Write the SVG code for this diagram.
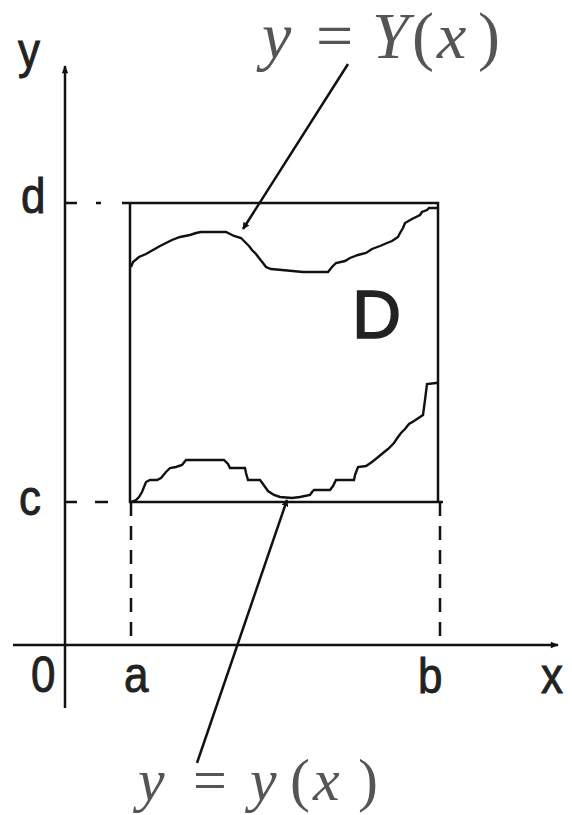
<svg xmlns="http://www.w3.org/2000/svg" width="572" height="815" viewBox="0 0 572 815">
<style>
.ln{stroke:#111;stroke-width:2.5;fill:none}
.cv{stroke:#111;stroke-width:2.4;fill:none;stroke-linejoin:miter}
.dash{stroke:#111;stroke-width:2.5;fill:none;stroke-dasharray:14 10}
.lbl{font-family:"Liberation Sans",Arial,sans-serif;font-size:44px;fill:#222;stroke:#222;stroke-width:0.8}
.big{font-size:68px;stroke-width:1.5}
.fm{font-family:"Liberation Serif","Times New Roman",serif;fill:#555}
.it{font-style:italic}
</style>
<defs>
<marker id="ah" viewBox="0 0 10 10" refX="9" refY="5" markerWidth="7" markerHeight="7" orient="auto" markerUnits="userSpaceOnUse">
<path d="M0,0 L10,5 L0,10 z" fill="#111"/>
</marker>
<marker id="axh" viewBox="0 0 10 10" refX="9" refY="5" markerWidth="9" markerHeight="8" orient="auto" markerUnits="userSpaceOnUse">
<path d="M0,1 L10,5 L0,9 z" fill="#111"/>
</marker>
</defs>
<rect width="572" height="815" fill="#fff"/>
<g id="axes">
<line class="ln" x1="65" y1="708" x2="65" y2="66" marker-end="url(#axh)"/>
<line class="ln" x1="13" y1="645" x2="558" y2="645" marker-end="url(#axh)"/>
</g>
<g id="guides">
<path class="dash" d="M65 203 H77 M96 203 H101"/>
<path class="dash" d="M65 502 H77 M95 502 H108"/>
<line class="dash" x1="131" y1="502" x2="131" y2="645"/>
<line class="dash" x1="440" y1="502" x2="440" y2="645"/>
</g>
<g id="rect">
<path class="ln" d="M122 203 H438 V502 M130 203 V502 H443"/>
</g>
<g id="curve-upper">
<path class="cv" d="M131 267 L133 262 L139 257 L146 254 L153 250 L160 246 L166 243 L172 240 L180 237 L190 235 L196 233 L201 232 L226 232 L234 236 L241 238 L245 242 L249 246 L252 250 L256 254 L259 258 L263 263 L266 267 L271 269 L282 270 L303 272 L328 272 L332 267 L336 263 L345 261 L350 258 L358 255 L366 253 L372 249 L380 246 L387 243 L392 241 L398 237 L400 233 L403 228 L405 223 L412 219 L420 215 L422 212 L427 210 L429 208 L438 208"/>
</g>
<g id="curve-lower">
<path class="cv" d="M131 502 L136 500 L139 497 L142 492 L146 482 L150 480 L157 480 L161 478 L166 472 L170 468 L176 467 L182 465 L186 460 L224 460 L228 464 L230 468 L245 468 L246 473 L248 480 L260 480 L263 484 L268 491 L274 495 L280 497 L292 498 L300 497 L310 495 L312 492 L314 490 L330 490 L333 486 L336 480 L354 480 L355 475 L358 467 L366 466 L372 462 L377 458 L383 453 L388 449 L394 443 L398 437 L401 433 L405 429 L409 424 L414 421 L423 415 L425 400 L427 384 L436 383 L438 383"/>
</g>
<g id="connectors">
<line class="ln" x1="348" y1="64" x2="243" y2="229" stroke-width="2" marker-end="url(#ah)"/>
<line class="ln" x1="197" y1="763" x2="287" y2="500" stroke-width="2" marker-end="url(#ah)"/>
</g>
<g id="labels">
<text class="lbl" x="18" y="68" transform="translate(0,-10) scale(1,1.15)">y</text>
<text class="lbl" x="21" y="213" transform="translate(0,-32) scale(1,1.15)">d</text>
<text class="lbl" x="19" y="515" transform="translate(0,-77) scale(1,1.15)">c</text>
<text class="lbl" x="31" y="692" transform="translate(0,-104) scale(1,1.15)">0</text>
<text class="lbl" x="124" y="692" transform="translate(0,-104) scale(1,1.15)">a</text>
<text class="lbl" x="418" y="693" transform="translate(0,-104) scale(1,1.15)">b</text>
<text class="lbl" x="541" y="693" transform="translate(0,-104) scale(1,1.15)">x</text>
<text id="D" class="lbl big" x="352" y="338">D</text>
</g>
<g id="formula-top">
<text class="fm" y="58" font-size="66"><tspan class="it" x="262">y</tspan><tspan x="316">=</tspan><tspan class="it" x="372">Y</tspan><tspan x="412">(</tspan><tspan class="it" x="437">x</tspan><tspan x="478">)</tspan></text>
</g>
<g id="formula-bottom">
<text class="fm" y="800" font-size="60"><tspan class="it" x="138">y</tspan><tspan x="193">=</tspan><tspan class="it" x="250">y</tspan><tspan x="290">(</tspan><tspan class="it" x="313">x</tspan><tspan x="358">)</tspan></text>
</g>
</svg>
